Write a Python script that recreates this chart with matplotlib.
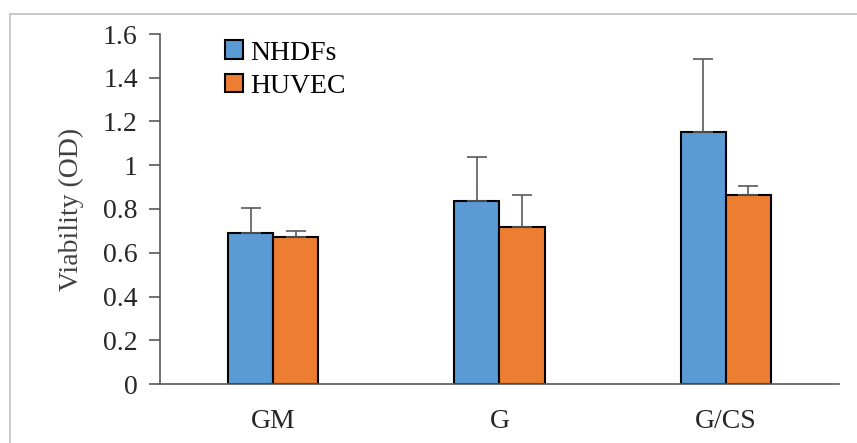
import numpy as np
import matplotlib.pyplot as plt
from matplotlib.lines import Line2D

categories = ["GM", "G", "G/CS"]
nhdfs = [0.692, 0.837, 1.152]
nhdfs_err = [0.111, 0.200, 0.332]
huvec = [0.671, 0.716, 0.864]
huvec_err = [0.028, 0.148, 0.041]

C = {"NHDFs": "#5b9bd5", "HUVEC": "#ed7d31"}
AXC = "#595959"
FS = 20

plt.rcParams["font.family"] = ["Liberation Serif", "DejaVu Serif"]

fig = plt.figure(figsize=(8.57, 4.43), dpi=100)
ax = fig.add_axes([160 / 857, 1 - 384 / 443, 679 / 857, 350 / 443])

x = np.arange(len(categories))
w = 0.2
ekw = dict(ecolor=AXC, elinewidth=1.2, capsize=7, capthick=1.2)
ax.bar(x - w / 2, nhdfs, w, color=C["NHDFs"], edgecolor="black", linewidth=1.5,
       yerr=[np.zeros(3), nhdfs_err], error_kw=ekw, label="NHDFs", zorder=2)
ax.bar(x + w / 2, huvec, w, color=C["HUVEC"], edgecolor="black", linewidth=1.5,
       yerr=[np.zeros(3), huvec_err], error_kw=ekw, label="HUVEC", zorder=2)

ax.set_xlim(-0.5, 2.5)
ax.set_ylim(0, 1.6)
ax.set_yticks(np.arange(0, 1.61, 0.2))
ax.set_yticklabels(["0", "0.2", "0.4", "0.6", "0.8", "1", "1.2", "1.4", "1.6"])
ax.set_xticks(x)
ax.set_xticklabels(categories)
for s in ["top", "right"]:
    ax.spines[s].set_visible(False)
for s in ["left", "bottom"]:
    ax.spines[s].set_color(AXC)
    ax.spines[s].set_linewidth(1.2)
ax.tick_params(axis="y", length=8, width=1.2, color=AXC, labelsize=FS, pad=8,
               labelcolor="#262626")
ax.tick_params(axis="x", length=0, labelsize=FS, pad=18, labelcolor="#262626")
ax.set_ylabel("Viability (OD)", fontsize=FS, color="#404040", labelpad=14)

ax.legend(loc="upper left", bbox_to_anchor=(0.063, 1.045), frameon=False,
          fontsize=FS, handlelength=0.65, handleheight=0.65, handletextpad=0.25,
          labelspacing=0.3, borderpad=0.3)

# light frame around the figure (left and top edges visible)
fig.add_artist(Line2D([10 / 857, 10 / 857], [0, 1 - 14 / 443], transform=fig.transFigure,
                      color="#c0c0c0", lw=1.2))
fig.add_artist(Line2D([10 / 857, 1], [1 - 14 / 443, 1 - 14 / 443], transform=fig.transFigure,
                      color="#c0c0c0", lw=1.2))

fig.savefig("out.png", dpi=100)
